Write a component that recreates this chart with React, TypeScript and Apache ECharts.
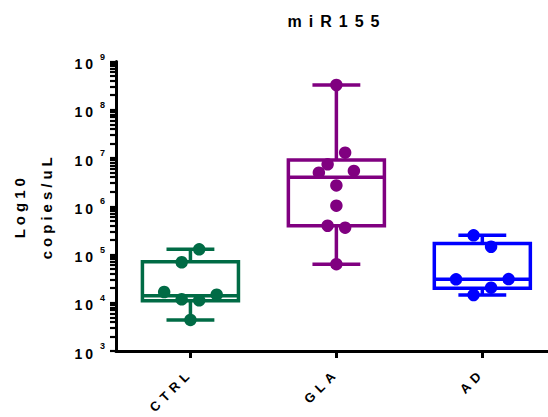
import React, { useEffect, useRef } from 'react';
import * as echarts from 'echarts';

// ---- data ----
const categories = ['CTRL', 'GLA', 'AD'];
const groupColors = ['#006b45', '#800080', '#0000ff'];

// individual points (copies/uL) and their horizontal jitter (in category units)
const ctrlValues = [1.28e5, 6.9e4, 1.67e4, 1.47e4, 1.18e4, 1.12e4, 4.4e3];
const ctrlJitter = [0.06, -0.06, -0.18, 0.18, -0.06, 0.06, 0];
const glaValues = [3.26e8, 1.29e7, 7.4e6, 4.95e6, 5.4e6, 2.7e6, 1.03e6, 3.95e5, 3.6e5, 6.3e4];
const glaJitter = [0, 0.06, -0.06, -0.12, 0.12, 0, 0, -0.06, 0.06, 0];
const adValues = [2.5e5, 1.45e5, 3.06e4, 3.1e4, 2.05e4, 1.45e4];
const adJitter = [-0.06, 0.06, -0.18, 0.18, 0.06, -0.06];

// box stats: [min, Q1, median, Q3, max]
const ctrlBox = [4.4e3, 1.1e4, 1.4e4, 7.1e4, 1.28e5];
const glaBox = [6.3e4, 3.95e5, 4.0e6, 9.1e6, 3.26e8];
const adBox = [1.45e4, 2.0e4, 3.06e4, 1.7e5, 2.5e5];

const yExponents = [3, 4, 5, 6, 7, 8, 9];
const titleText = 'miR155';
const yNameLines = ['Log10', 'copies/uL'];

const FONT = 'Liberation Sans, Arial, Helvetica, sans-serif';
const BOX_HW = 0.329;
const CAP_HW = 0.164;
const X_MIN = -0.51;
const X_MAX = 2.45;

export default function App() {
  const ref = useRef<HTMLDivElement>(null);

  useEffect(() => {
    const el = ref.current;
    if (!el) return;
    const chart = echarts.init(el, undefined, { renderer: 'svg' });

    const values = [ctrlValues, glaValues, adValues];
    const jitters = [ctrlJitter, glaJitter, adJitter];
    const boxes = [ctrlBox, glaBox, adBox];
    const lg = (v: number) => Math.log10(v);

    // all y ticks: decades plus log-spaced minor ticks 2..9 x 10^n
    const allTicks: number[] = [];
    for (let e = yExponents[0]; e <= yExponents[yExponents.length - 1]; e++) {
      allTicks.push(e);
      if (e < yExponents[yExponents.length - 1]) {
        for (let k = 2; k <= 9; k++) allTicks.push(lg(k * Math.pow(10, e)));
      }
    }

    const boxData = boxes.map((b, i) => [i, ...b.map(lg)]);

    const scatterSeries = values.map((vals, i) => ({
      type: 'scatter',
      name: categories[i],
      symbol: 'circle',
      symbolSize: 12.5,
      itemStyle: { color: groupColors[i], opacity: 1 },
      z: 5,
      data: vals.map((v, j) => [i + jitters[i][j], lg(v)]),
    }));

    const option: any = {
      animation: false,
      backgroundColor: '#ffffff',
      grid: {
        left: 116,
        right: 0,
        top: 61.5,
        bottom: 66,
        containLabel: false,
        outerBoundsMode: 'none',
      },
      graphic: [
        {
          type: 'text',
          x: 337,
          y: 21,
          style: {
            text: titleText,
            font: `bold 16px ${FONT}`,
            fill: '#000',
            textAlign: 'center',
            textVerticalAlign: 'middle',
          },
        },
      ],
      xAxis: {
        type: 'value',
        min: X_MIN,
        max: X_MAX,
        splitLine: { show: false },
        axisLine: { show: true, onZero: false, lineStyle: { color: '#000', width: 3 } },
        axisTick: {
          show: true,
          customValues: [0, 1, 2],
          length: 7,
          lineStyle: { color: '#000', width: 3 },
        },
        axisLabel: {
          show: true,
          customValues: [0, 1, 2],
          rotate: 45,
          margin: 20,
          color: '#000',
          fontFamily: FONT,
          fontSize: 13,
          fontWeight: 'bold',
          formatter: (v: number) => categories[Math.round(v)] ?? '',
        },
      },
      yAxis: {
        type: 'value',
        min: 3,
        max: 9,
        interval: 1,
        position: 'left',
        splitLine: { show: false },
        axisLine: { show: true, onZero: false, lineStyle: { color: '#000', width: 3 } },
        axisTick: {
          show: true,
          customValues: allTicks,
          length: 6,
          lineStyle: { color: '#000', width: 2.2 },
        },
        axisLabel: {
          margin: 11,
          color: '#000',
          fontFamily: FONT,
          fontSize: 14,
          fontWeight: 'bold',
          formatter: (v: number) => `{base|10}{sup|${Math.round(v)}}`,
          rich: {
            base: { fontSize: 14, fontWeight: 'bold', fontFamily: FONT, color: '#000', padding: [5, 0, 0, 0] },
            sup: { fontSize: 9, fontWeight: 'bold', fontFamily: FONT, color: '#000', verticalAlign: 'top', padding: [0, 0, 0, 4] },
          },
        },
        name: yNameLines.join('\n'),
        nameLocation: 'middle',
        nameRotate: 90,
        nameGap: 56,
        nameTextStyle: {
          color: '#000',
          fontFamily: FONT,
          fontSize: 15,
          fontWeight: 'bold',
          lineHeight: 27,
        },
      },
      series: [
        {
          type: 'custom',
          z: 2,
          data: boxData,
          renderItem: (params: any, api: any) => {
            const i = api.value(0);
            const mn = api.value(1);
            const q1 = api.value(2);
            const md = api.value(3);
            const q3 = api.value(4);
            const mx = api.value(5);
            const color = groupColors[i];
            const st = { stroke: color, lineWidth: 3.5, fill: 'none' };
            const tl = api.coord([i - BOX_HW, q3]);
            const br = api.coord([i + BOX_HW, q1]);
            const line = (x1: number, y1: number, x2: number, y2: number) => {
              const a = api.coord([x1, y1]);
              const b = api.coord([x2, y2]);
              return {
                type: 'line',
                shape: { x1: a[0], y1: a[1], x2: b[0], y2: b[1] },
                style: st,
              };
            };
            return {
              type: 'group',
              children: [
                line(i, q3, i, mx),
                line(i, q1, i, mn),
                line(i - CAP_HW, mx, i + CAP_HW, mx),
                line(i - CAP_HW, mn, i + CAP_HW, mn),
                {
                  type: 'rect',
                  shape: { x: tl[0], y: tl[1], width: br[0] - tl[0], height: br[1] - tl[1] },
                  style: st,
                },
                line(i - BOX_HW, md, i + BOX_HW, md),
              ],
            };
          },
        },
        ...scatterSeries,
      ],
    };

    chart.setOption(option);

    const spacingFor = (s: string): number => {
      if (s === titleText) return 7;
      if (s === '10') return 3;
      if (categories.includes(s)) return 5;
      if (yNameLines.includes(s)) return 4;
      return 0;
    };
    const applySpacing = () => {
      el.querySelectorAll('text').forEach((t) => {
        const s = (t.textContent || '').trim();
        const ls = spacingFor(s);
        if (ls) (t as SVGTextElement).style.letterSpacing = `${ls}px`;
      });
    };
    chart.on('finished', applySpacing);
    applySpacing();
    const timer = setTimeout(applySpacing, 30);

    return () => {
      clearTimeout(timer);
      chart.dispose();
    };
  }, []);

  return (
    <div
      ref={ref}
      style={{ width: 548, height: 417, position: 'absolute', left: 0, top: 0, background: '#fff' }}
    />
  );
}
